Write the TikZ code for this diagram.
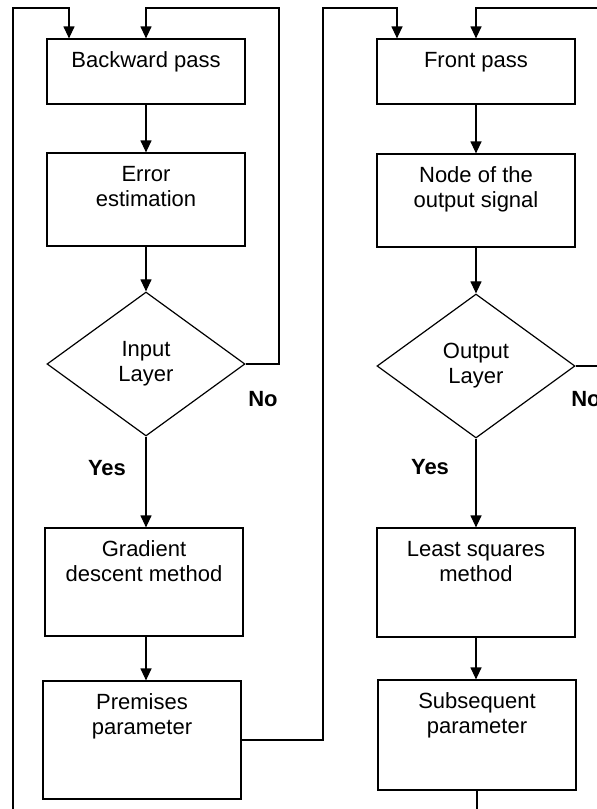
\documentclass[tikz,border=0pt]{standalone}
\usepackage{fontspec}
\setmainfont{Liberation Sans}
\usetikzlibrary{arrows.meta}
\usetikzlibrary{shapes.geometric}

\begin{document}
\begin{tikzpicture}[x=1pt,y=-1pt,line width=1.2pt,font=\fontsize{22}{25}\selectfont,
	box/.style={draw, rectangle, minimum width=198pt, inner sep=0pt},
	cond/.style={draw, diamond, minimum width=198pt, minimum height=144pt, inner sep=0pt, align=center},
	caption/.style={align=center, anchor=north, inner sep=0pt},
	answer/.style={font=\fontsize{22}{25}\selectfont\bfseries, inner sep=0pt},
	flow/.style={-{Triangle[length=12pt,width=11pt]}}]
	
	\useasboundingbox (0,0) rectangle (597,809);
	
	\node[box, minimum height=65pt] (back) at (146,71.5) {};
	\node[caption] (backtxt) at ([yshift=-13pt]back.north) {Backward pass};
	\node[box, minimum height=93pt] (err) at (146,199.5) {};
	\node[caption] (errtxt) at ([yshift=-13pt]err.north) {Error\\estimation};
	\node[cond] (inlay) at (146,364) {Input\\Layer};
	\node[box, minimum height=108pt] (grad) at (144,582) {};
	\node[caption] (gradtxt) at ([yshift=-13pt]grad.north) {Gradient\\descent method};
	\node[box, minimum height=118pt] (prem) at (142,740) {};
	\node[caption] (premtxt) at ([yshift=-13pt]prem.north) {Premises\\parameter};
	
	\node[box, minimum height=65pt] (front) at (476,71.5) {};
	\node[caption] (fronttxt) at ([yshift=-13pt]front.north) {Front pass};
	\node[box, minimum height=93pt] (sig) at (476,200.5) {};
	\node[caption] (sigtxt) at ([yshift=-13pt]sig.north) {Node of the\\output signal};
	\node[cond] (outlay) at (476,366) {Output\\Layer};
	\node[box, minimum height=109pt] (lsq) at (476,582.5) {};
	\node[caption] (lsqtxt) at ([yshift=-13pt]lsq.north) {Least squares\\method};
	\node[box, minimum height=110pt] (sub) at (477,735) {};
	\node[caption] (subtxt) at ([yshift=-13pt]sub.north) {Subsequent\\parameter};
	
	\node[answer] (noin) at (263,399) {No};
	\node[answer] (yesin) at (107,468) {Yes};
	\node[answer] (noout) at (586,399) {No};
	\node[answer] (yesout) at (430,467) {Yes};
	
	\coordinate (leftfoot) at (13,812);
	\coordinate (lefttop) at (13,8);
	\coordinate (backret) at (279,8);
	\coordinate (midret) at (323,8);
	\coordinate (rightret) at (600,8);
	\coordinate (rightout) at (600,366);
	\coordinate (subfoot) at (477,812);
	
	\draw[flow] (back) -- (err);
	\draw[flow] (err) -- (inlay);
	\draw[flow] (inlay.south) -- (inlay.south |- grad.north);
	\draw[flow] (grad.south -| inlay.south) -- (inlay.south |- prem.north);
	\draw[flow] (leftfoot) -- (lefttop) -| ([xshift=-77pt]back.north);
	\draw[flow] (inlay.east) -| (backret) -| (back.north);
	\draw[flow] (prem.east) -| (midret) -| ([xshift=-79pt]front.north);
	
	\draw[flow] (front) -- (sig);
	\draw[flow] (sig) -- (outlay);
	\draw[flow] (outlay) -- (lsq);
	\draw[flow] (lsq.south) -- (lsq.south |- sub.north);
	\draw[flow] (rightret) -| (front.north);
	\draw (outlay.east) -- (rightout);
	\draw (sub) -- (subfoot);
\end{tikzpicture}
\end{document}
